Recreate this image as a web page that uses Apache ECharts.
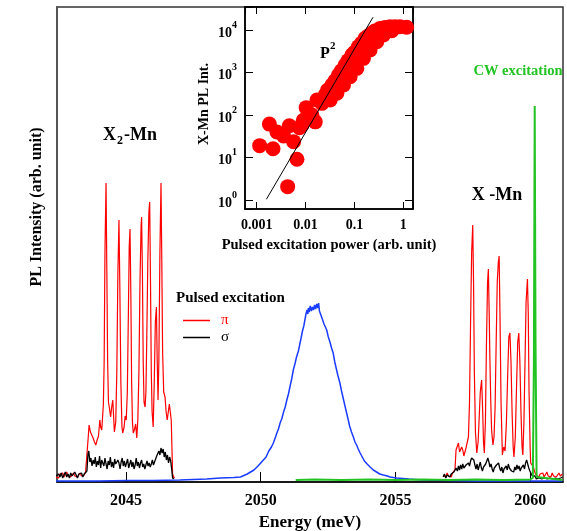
<!DOCTYPE html>
<html><head><meta charset="utf-8">
<script src="https://cdn.jsdelivr.net/npm/echarts@6/dist/echarts.min.js"></script>
<style>html,body{margin:0;padding:0;background:#fff}#c{width:567px;height:531px}</style>
</head><body><div id="c"></div>
<script>
// ---------- tick labels ----------
const energyTicks = [2045, 2050, 2055, 2060];
const powerTickLabels = ['0.001', '0.01', '0.1', '1'];      // exponents -3..0
const intensityExponents = [0, 1, 2, 3, 4];                   // 10^0..10^4

// ---------- main spectra: [energy (meV), PL intensity (arb.)] ----------
const piX2 = [
[2042.40,5],[2042.45,7],[2042.50,4],[2042.55,8],[2042.60,6],[2042.65,9],[2042.70,5],[2042.75,7],[2042.80,10],[2042.85,6],[2042.90,8],[2042.95,5],[2043.00,7],[2043.05,9],[2043.10,6],[2043.15,8],[2043.20,5],[2043.25,7],[2043.30,9],[2043.35,6],[2043.40,8],[2043.45,7],[2043.50,10],[2043.55,12],
[2043.60,45],[2043.63,57],[2043.68,50],[2043.73,48],[2043.78,44],[2043.83,40],[2043.88,37],[2043.93,42],[2043.98,46],[2044.03,62],[2044.06,55],[2044.10,52],[2044.13,64],[2044.16,77],[2044.19,120],[2044.22,230],[2044.26,299],[2044.29,210],[2044.32,120],[2044.35,80],[2044.38,75],[2044.43,65],[2044.47,75],[2044.51,82],[2044.57,50],[2044.62,60],[2044.66,110],[2044.70,210],[2044.74,262],[2044.77,200],[2044.81,100],[2044.85,55],[2044.88,49],[2044.93,55],[2044.97,66],[2045.01,62],[2045.05,90],[2045.09,170],[2045.12,235],[2045.15,253],[2045.18,190],[2045.21,100],[2045.24,60],[2045.27,49],[2045.31,52],[2045.36,58],[2045.40,44],[2045.44,62],[2045.48,110],[2045.52,200],[2045.56,255],[2045.58,265],[2045.61,210],[2045.64,120],[2045.67,80],[2045.71,75],[2045.74,90],[2045.77,140],[2045.81,220],[2045.85,270],[2045.88,280],[2045.91,200],[2045.94,110],[2045.97,70],[2046.01,55],[2046.05,100],[2046.09,160],[2046.13,175],[2046.16,120],[2046.19,82],[2046.22,120],[2046.26,230],[2046.30,299],[2046.33,220],[2046.36,130],[2046.40,90],[2046.45,85],[2046.49,70],[2046.53,62],[2046.57,70],[2046.61,78],[2046.64,80],[2046.68,62],[2046.71,30],[2046.73,8],[2046.77,5],[2046.80,4]
];
const sigmaX2 = [
[2042.40,6],[2042.45,4],[2042.50,8],[2042.55,5],[2042.60,9],[2042.65,4],[2042.70,7],[2042.75,10],[2042.80,5],[2042.85,8],[2042.90,4],[2042.95,9],[2043.00,6],[2043.05,5],[2043.10,10],[2043.15,7],[2043.20,4],[2043.25,8],[2043.30,6],[2043.35,9],[2043.40,5],[2043.45,8],[2043.50,7],[2043.55,11],
[2043.59,28],[2043.62,31],[2043.66,20],[2043.70,24],[2043.74,16],[2043.78,22],[2043.82,18],[2043.86,25],[2043.90,15],[2043.94,21],[2043.98,17],[2044.02,26],[2044.06,14],[2044.10,22],[2044.14,19],[2044.18,16],[2044.22,24],[2044.26,18],[2044.30,13],[2044.34,21],[2044.38,17],[2044.42,25],[2044.46,15],[2044.50,20],[2044.54,14],[2044.58,23],[2044.62,18],[2044.66,16],[2044.70,22],[2044.74,19],[2044.78,13],[2044.82,20],[2044.86,24],[2044.90,16],[2044.94,21],[2044.98,15],[2045.02,19],[2045.06,23],[2045.10,14],[2045.14,18],[2045.18,22],[2045.22,15],[2045.26,20],[2045.30,13],[2045.34,17],[2045.38,24],[2045.42,16],[2045.46,20],[2045.50,14],[2045.54,19],[2045.58,22],[2045.62,15],[2045.66,18],[2045.70,13],[2045.74,17],[2045.78,21],[2045.82,16],[2045.86,19],[2045.90,15],[2045.94,18],[2045.98,22],[2046.02,17],[2046.06,20],[2046.10,19],[2046.14,26],[2046.18,24],[2046.22,31],[2046.26,27],[2046.30,34],[2046.34,29],[2046.38,33],[2046.42,25],[2046.46,30],[2046.50,22],[2046.54,27],[2046.58,19],[2046.62,25],[2046.66,21],[2046.70,12],[2046.73,4],[2046.78,3]
];
const piX = [
[2056.77,6],[2056.82,8],[2056.87,5],[2056.92,9],[2056.97,6],[2057.02,8],[2057.07,5],[2057.12,9],[2057.17,7],[2057.21,12],[2057.25,32],[2057.30,36],[2057.34,39],[2057.38,30],[2057.42,29],[2057.46,35],[2057.50,32],[2057.54,26],[2057.58,27],[2057.62,34],[2057.67,35],[2057.71,45],[2057.75,80],[2057.79,160],[2057.83,230],[2057.87,257],[2057.90,200],[2057.93,110],[2057.97,50],[2058.02,29],[2058.07,40],[2058.11,65],[2058.15,90],[2058.20,102],[2058.24,70],[2058.27,40],[2058.30,29],[2058.34,60],[2058.38,140],[2058.42,200],[2058.45,213],[2058.48,170],[2058.51,118],[2058.54,80],[2058.57,52],[2058.62,37],[2058.66,45],[2058.70,75],[2058.74,140],[2058.78,200],[2058.82,220],[2058.85,226],[2058.88,170],[2058.92,80],[2058.97,27],[2059.02,35],[2059.07,31],[2059.12,60],[2059.17,110],[2059.21,145],[2059.25,149],[2059.29,120],[2059.33,70],[2059.37,35],[2059.40,25],[2059.45,45],[2059.50,100],[2059.54,140],[2059.58,149],[2059.62,120],[2059.66,70],[2059.70,35],[2059.73,27],[2059.77,60],[2059.81,120],[2059.85,180],[2059.90,203],[2059.93,170],[2059.96,90],[2060.00,35],[2060.02,19],[2060.07,17],[2060.12,15],[2060.17,10],[2060.22,7],[2060.27,9],[2060.32,5],[2060.37,8],[2060.42,6],[2060.47,9],[2060.52,5],[2060.57,7],[2060.62,10],[2060.67,6],[2060.72,8],[2060.77,5],[2060.82,9],[2060.87,6],[2060.92,8],[2060.97,5],[2061.02,7],[2061.07,9],[2061.12,6],[2061.20,8]
];
const sigmaX = [
[2056.77,5],[2056.82,8],[2056.87,4],[2056.92,7],[2056.97,9],[2057.02,5],[2057.07,8],[2057.12,6],[2057.17,10],[2057.21,9],[2057.25,14],[2057.30,11],[2057.34,16],[2057.38,12],[2057.42,17],[2057.46,13],[2057.50,18],[2057.54,14],[2057.58,12],[2057.62,17],[2057.67,15],[2057.71,19],[2057.75,16],[2057.79,21],[2057.83,24],[2057.87,26],[2057.91,22],[2057.95,17],[2057.99,13],[2058.03,18],[2058.07,12],[2058.11,16],[2058.15,20],[2058.19,14],[2058.23,11],[2058.27,15],[2058.31,13],[2058.35,18],[2058.39,21],[2058.43,24],[2058.47,20],[2058.51,15],[2058.55,18],[2058.59,13],[2058.63,10],[2058.67,14],[2058.71,12],[2058.75,17],[2058.79,15],[2058.83,19],[2058.87,14],[2058.91,11],[2058.95,15],[2058.99,9],[2059.03,13],[2059.07,11],[2059.11,16],[2059.15,12],[2059.19,18],[2059.23,14],[2059.27,16],[2059.31,11],[2059.35,13],[2059.39,10],[2059.43,15],[2059.47,12],[2059.51,17],[2059.55,13],[2059.59,16],[2059.63,11],[2059.67,14],[2059.71,12],[2059.75,17],[2059.79,13],[2059.83,19],[2059.87,22],[2059.91,18],[2059.95,14],[2059.99,11],[2060.03,9],[2060.08,6],[2060.13,4],[2060.18,6],[2060.23,3],[2060.28,5],[2060.33,4],[2060.38,6],[2060.43,3],[2060.48,5],[2060.53,4],[2060.58,6],[2060.63,3],[2060.68,5],[2060.73,4],[2060.78,6],[2060.83,3],[2060.88,5],[2060.93,4],[2060.98,6],[2061.03,3],[2061.08,5],[2061.13,4],[2061.20,5]
];
const blueBand = [
[2042.40,1],[2043.0,1],[2044.0,1],[2045.0,1.5],[2046.0,1.5],[2047.0,2],[2047.5,2.5],[2048.0,3],[2048.5,4],[2049.0,4.5],[2049.25,5],[2049.5,8],[2049.75,12],[2049.9,16],[2050.1,22],[2050.2,25],[2050.3,31],[2050.4,35],[2050.47,39],[2050.55,45],[2050.6,49],[2050.66,53],[2050.72,59],[2050.78,63],[2050.85,70],[2050.91,75],[2050.97,82],[2051.03,88],[2051.1,97],[2051.15,103],[2051.21,112],[2051.27,118],[2051.33,125],[2051.4,131],[2051.46,139],[2051.5,144],[2051.55,151],[2051.6,156],[2051.64,162],[2051.68,168],[2051.72,172],[2051.75,168],[2051.77,174],[2051.8,170],[2051.84,176],[2051.88,171],[2051.92,175],[2051.96,172],[2052.0,177],[2052.04,173],[2052.08,178],[2052.12,174],[2052.15,179],[2052.18,171],[2052.22,170],[2052.26,165],[2052.3,162],[2052.35,158],[2052.4,155],[2052.45,152],[2052.51,145],[2052.57,140],[2052.63,134],[2052.69,129],[2052.75,120],[2052.8,114],[2052.87,106],[2052.94,99],[2053.0,91],[2053.06,84],[2053.12,77],[2053.19,69],[2053.25,62],[2053.3,56],[2053.37,50],[2053.44,45],[2053.5,40],[2053.56,37],[2053.62,33],[2053.69,29],[2053.77,25],[2053.85,21],[2053.95,18],[2054.06,15],[2054.18,12],[2054.3,10],[2054.42,8],[2054.55,7],[2054.7,6],[2054.8,5],[2055.05,4],[2055.5,3],[2056.0,2],[2057.0,1.5],[2058.0,1],[2059.0,1],[2060.0,1],[2061.2,1]
];
const cwLine = [
[2051.30,2],[2052.0,2.5],[2053.0,2],[2054.0,2.5],[2055.0,2],[2056.0,2.5],[2057.0,2],[2058.0,2.5],[2059.0,2],[2060.0,2.5],[2060.10,4],[2060.14,120],[2060.17,376],[2060.20,140],[2060.24,5],[2060.30,3],[2061.20,2]
];

// ---------- inset: [pulsed excitation power, X-Mn PL intensity] ----------
const powerSeries = [
[0.00115,19],[0.00182,61],[0.00216,16],[0.0026,40],[0.00356,32],[0.0043,2.06],[0.00465,56],[0.00569,23.6],[0.00667,9.1],[0.0075,50],[0.00845,58],[0.009,75],[0.0103,149],[0.0115,90],[0.0135,100],[0.0158,69],[0.0171,225],[0.0216,188],
[0.0252,296],[0.0346,508],[0.0471,873],[0.0646,1500],[0.0885,2580],[0.121,4050],[0.165,6350],[0.226,8350],[0.334,10900],[0.536,11900],[0.857,11900],[1.17,11600],
[0.0319,226],[0.0437,324],[0.0597,508],[0.0817,795],[0.112,1250],[0.153,2150],[0.209,3380],[0.286,5290],[0.391,7630],[0.58,9600],
[0.028,380],[0.04,640],[0.054,1100],[0.074,1900],[0.1,3000],[0.14,4900],[0.19,7200],[0.26,9500],[0.42,11400],[0.68,12000]
];
const p2Line = [[0.00158,1.04],[0.24,20000]];

const F = "'Liberation Serif','Times New Roman',serif";
const chart = echarts.init(document.getElementById('c'), null, {renderer:'canvas'});
const logLabel = (v) => { const l = Math.log10(v); const r = Math.round(l); return Math.abs(l - r) < 1e-6 ? r : null; };

const option = {
  animation:false,
  backgroundColor:'#fff',
  grid:[
    {left:57, top:7, right:4, bottom:49, show:true, borderColor:'#333', borderWidth:1.5, backgroundColor:'#fff', containLabel:false, outerBoundsMode:'none'},
    {left:245, top:7, width:168, height:202, show:true, borderColor:'#000', borderWidth:1.5, backgroundColor:'#fff', containLabel:false, outerBoundsMode:'none'}
  ],
  xAxis:[
    {type:'value', gridIndex:0, min:2042.44, max:2061.22,
     axisLine:{show:true, lineStyle:{color:'#000', width:1.5}},
     axisTick:{show:true, inside:true, length:10, customValues:energyTicks, lineStyle:{color:'#000', width:1}},
     axisLabel:{show:true, customValues:energyTicks, margin:11, fontFamily:F, fontWeight:'bold', fontSize:16, color:'#000',
       formatter:(v)=>String(v)},
     splitLine:{show:false},
     name:'Energy (meV)', nameLocation:'middle', nameGap:32,
     nameTextStyle:{fontFamily:F, fontWeight:'bold', fontSize:17, color:'#000'}},
    {type:'log', gridIndex:1, min:Math.pow(10,-3.239), max:Math.pow(10,0.198),
     axisLine:{show:true, lineStyle:{color:'#000', width:1.5}},
     axisTick:{show:true, inside:true, length:7, lineStyle:{color:'#000', width:1}},
     minorTick:{show:false}, splitLine:{show:false},
     axisLabel:{show:true, margin:9, fontFamily:F, fontWeight:'bold', fontSize:14, color:'#000',
       formatter:(v)=>{ const r = logLabel(v); return r === null ? '' : powerTickLabels[r + 3]; }},
     name:'Pulsed excitation power (arb. unit)', nameLocation:'middle', nameGap:29,
     nameTextStyle:{fontFamily:F, fontWeight:'bold', fontSize:14.5, color:'#000'}},
    {type:'log', gridIndex:1, position:'top', min:Math.pow(10,-3.239), max:Math.pow(10,0.198),
     axisLine:{show:true, lineStyle:{color:'#000', width:1.5}},
     axisTick:{show:true, inside:true, length:7, lineStyle:{color:'#000', width:1}},
     axisLabel:{show:false}, splitLine:{show:false}}
  ],
  yAxis:[
    {type:'value', gridIndex:0, min:0, max:475, axisLine:{show:true, lineStyle:{color:'#555', width:2}},
     axisTick:{show:false}, axisLabel:{show:false}, splitLine:{show:false}},
    {type:'log', gridIndex:1, min:Math.pow(10,-0.212), max:Math.pow(10,4.541),
     axisLine:{show:true, lineStyle:{color:'#000', width:1.5}},
     axisTick:{show:true, inside:true, length:8, lineStyle:{color:'#000', width:1}},
     splitLine:{show:false},
     axisLabel:{show:true, margin:8, color:'#000',
       formatter:(v)=>{ const r = logLabel(v); return (r === null || intensityExponents.indexOf(r) < 0) ? '' : '{b|10}{s|' + r + '}'; },
       rich:{b:{fontFamily:F, fontWeight:'bold', fontSize:14, color:'#000', lineHeight:20, verticalAlign:'bottom'},
             s:{fontFamily:F, fontWeight:'bold', fontSize:10, color:'#000', lineHeight:10, verticalAlign:'top'}}}},
    {type:'log', gridIndex:1, position:'right', min:Math.pow(10,-0.212), max:Math.pow(10,4.541),
     axisLine:{show:true, lineStyle:{color:'#000', width:1.5}},
     axisTick:{show:true, inside:true, length:8, lineStyle:{color:'#000', width:1}},
     axisLabel:{show:false}, splitLine:{show:false}}
  ],
  legend:{show:true, data:[{name:'π', textStyle:{color:'#f00'}},{name:'σ', textStyle:{color:'#000'}}],
    orient:'vertical', left:178, top:308, icon:'rect', itemWidth:27, itemHeight:1.5, itemGap:2,
    textStyle:{fontFamily:F, fontSize:15, lineHeight:15, padding:[0,0,0,6]}},
  series:[
    {name:'π', type:'line', xAxisIndex:0, yAxisIndex:0, data:piX2, showSymbol:false, symbol:'none', lineStyle:{color:'#f00', width:1.2}, itemStyle:{color:'#f00'}, z:2},
    {name:'π', type:'line', xAxisIndex:0, yAxisIndex:0, data:piX, showSymbol:false, symbol:'none', lineStyle:{color:'#f00', width:1.2}, itemStyle:{color:'#f00'}, z:2},
    {name:'σ', type:'line', xAxisIndex:0, yAxisIndex:0, data:sigmaX2, showSymbol:false, symbol:'none', lineStyle:{color:'#000', width:1.3}, itemStyle:{color:'#000'}, z:3},
    {name:'σ', type:'line', xAxisIndex:0, yAxisIndex:0, data:sigmaX, showSymbol:false, symbol:'none', lineStyle:{color:'#000', width:1.3}, itemStyle:{color:'#000'}, z:3},
    {name:'band', type:'line', xAxisIndex:0, yAxisIndex:0, data:blueBand, showSymbol:false, symbol:'none', lineStyle:{color:'#1a3cff', width:1.5}, z:4},
    {name:'cw', type:'line', xAxisIndex:0, yAxisIndex:0, data:cwLine, showSymbol:false, symbol:'none', lineStyle:{color:'#22c322', width:2}, z:5},
    {name:'power', type:'scatter', xAxisIndex:1, yAxisIndex:1, data:powerSeries, symbol:'circle', symbolSize:15, itemStyle:{color:'#ff0000', opacity:1}, z:6},
    {name:'P2', type:'line', xAxisIndex:1, yAxisIndex:1, data:p2Line, showSymbol:false, symbol:'none', lineStyle:{color:'#000', width:1}, z:7}
  ],
  graphic:[
    {type:'text', x:37, y:207, rotation:Math.PI/2, z:100, style:{text:'PL Intensity (arb. unit)', font:'bold 16px '+F, fill:'#000', align:'center', verticalAlign:'middle'}},
    {type:'text', x:204, y:104, rotation:Math.PI/2, z:100, style:{text:'X-Mn PL Int.', font:'bold 14px '+F, fill:'#000', align:'center', verticalAlign:'middle'}},
    {type:'text', x:176, y:298, z:100, style:{text:'Pulsed excitation', font:'bold 15px '+F, fill:'#000', align:'left', verticalAlign:'middle'}},
    {type:'text', x:103, y:135, z:100, style:{text:'X', font:'bold 18px '+F, fill:'#000', align:'left', verticalAlign:'middle'}},
    {type:'text', x:117, y:141, z:100, style:{text:'2', font:'bold 12px '+F, fill:'#000', align:'left', verticalAlign:'middle'}},
    {type:'text', x:124, y:135, z:100, style:{text:'-Mn', font:'bold 18px '+F, fill:'#000', align:'left', verticalAlign:'middle'}},
    {type:'text', x:497, y:195, z:100, style:{text:'X -Mn', font:'bold 18px '+F, fill:'#000', align:'center', verticalAlign:'middle'}},
    {type:'text', x:518, y:71, z:100, style:{text:'CW excitation', font:'bold 14.5px '+F, fill:'#22c322', align:'center', verticalAlign:'middle'}},
    {type:'text', x:320, y:54, z:100, style:{text:'P', font:'bold 16px '+F, fill:'#000', align:'left', verticalAlign:'middle'}},
    {type:'text', x:330, y:46, z:100, style:{text:'2', font:'bold 11px '+F, fill:'#000', align:'left', verticalAlign:'middle'}}
  ]
};
chart.setOption(option);
</script>
</body></html>
